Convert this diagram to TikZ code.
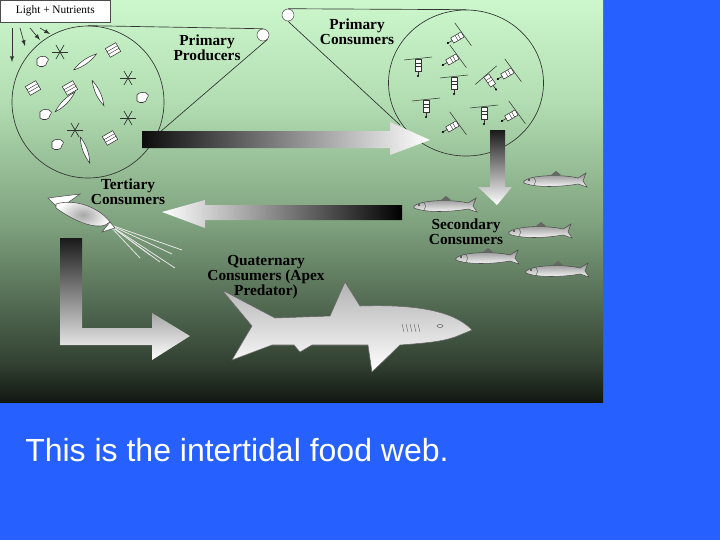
\documentclass[tikz,border=0pt]{standalone}
\usepackage{fontspec}
\usetikzlibrary{shapes.geometric}
\setmainfont{Liberation Serif}
\setsansfont{Liberation Sans}
\definecolor{bgblue}{RGB}{38,96,255}
\pgfdeclareverticalshading{sea}{100bp}{rgb(0bp)=(0.07,0.09,0.07); rgb(25bp)=(0.07,0.09,0.07); rgb(30bp)=(0.2,0.26,0.2); rgb(47.5bp)=(0.5,0.64,0.5); rgb(62.5bp)=(0.7,0.87,0.7); rgb(75bp)=(0.8,0.97,0.8); rgb(100bp)=(0.8,0.97,0.8)}
\begin{document}
\begin{tikzpicture}[x=0.75pt,y=-0.75pt,
 lbl/.style={font=\bfseries\fontsize{11.5}{11.5}\selectfont,align=center,text=black,inner sep=0},
 thin line/.style={draw=black!80,line width=0.5pt},
 fish/.pic={\shade[draw=black!70,line width=0.4pt,top color=black!45,bottom color=white]
   (-32,0) .. controls (-25,-6) and (5,-7) .. (22,-3) -- (30,-8) -- (27,0) -- (31,6) -- (22,3)
   .. controls (5,6) and (-20,7) .. (-32,2) -- cycle;
   \fill[black!60] (-5,-6) -- (0,-10) -- (5,-6) -- cycle;
   \draw[black!70,line width=0.3pt] (-22,-3) .. controls (-20,0) .. (-22,4);
   \fill (-27,-1) circle (0.8);},
 cope/.pic={\draw[black!80,line width=0.4pt] (-14,-2) -- (14,-5);
   \draw[black!80,fill=white,line width=0.4pt] (-3,-3) rectangle (3,9);
   \draw[black!80,line width=0.3pt] (-3,1)--(3,1) (-3,4)--(3,4);
   \draw[black!80,line width=0.5pt] (0,9) -- (0,14); \fill (0,14) circle (1.2);},
 sstar/.pic={\foreach \a in {0,60,120}{\draw[black!80,line width=0.5pt] (\a:8) -- (\a+180:8);}},
 diat/.pic={\draw[black!80,fill=white,line width=0.4pt,rotate=30] (-6,-5) rectangle (6,5);
   \draw[black!80,line width=0.3pt,rotate=30] (-6,-1.5)--(6,-1.5) (-6,1.5)--(6,1.5);},
 spin/.pic={\draw[black!80,fill=white,line width=0.4pt] (-14,0) .. controls (-4,-3) and (4,-3) .. (14,0) .. controls (4,3) and (-4,3) .. (-14,0);}
]
\useasboundingbox (0,0) rectangle (720,540);
\fill[bgblue] (0,0) rectangle (720,540);
\shade[shading=sea] (0,0) rectangle (603,402);
% light box
\node[draw=black!70,fill=white,minimum width=110*0.75pt,minimum height=22*0.75pt,anchor=north west,inner sep=0,font=\fontsize{8.5}{9}\selectfont] (light) at (0,0) {Light + Nutrients};
\foreach \x/\y/\u/\v in {12/28/12/62, 20/28/25/46, 30/28/40/40, 40/28/50/34}{\draw[-latex,black!80,line width=0.5pt] (\x,\y) -- (\u,\v);}
% producers circle
\node[circle,thin line,minimum size=152*0.75pt] (pc) at (88,102) {};
\node[circle,draw=black!70,fill=white,minimum size=12*0.75pt,inner sep=0] (pdot) at (263,35) {};
\draw[thin line] (pc.north) -- (pdot.north);
\draw[thin line] (pdot.south east) -- (160,132);
\node[lbl] (plab) at (207,48) {Primary\\Producers};
\foreach \p in {(60,52),(128,78),(128,118),(75,130)}{\pic at \p {sstar};}
\foreach \p in {(113,50),(33,88),(70,88),(110,138)}{\pic at \p {diat};}
\pic[rotate=35] at (85,62) {spin};
\pic[rotate=-65] at (98,93) {spin};
\pic[rotate=45] at (65,102) {spin};
\pic[rotate=-70] at (85,150) {spin};
\foreach \p in {(42,62),(142,98),(45,115),(57,145)}{\draw[black!80,fill=white,line width=0.4pt] \p ++(-5,-3) .. controls ++(5,-6) and ++(5,-4) .. ++(10,3) .. controls ++(0,5) and ++(3,3) .. ++(-10,3) -- cycle;}
% consumers circle
\node[ellipse,thin line,minimum width=155*0.75pt,minimum height=146*0.75pt] (cc) at (466,83) {};
\node[circle,draw=black!70,fill=white,minimum size=12*0.75pt,inner sep=0] (cdot) at (288,15) {};
\draw[thin line] (cdot.north) -- (cc.north);
\draw[thin line] (cdot.south) -- (400,125);
\node[lbl] (clab) at (357,32) {Primary\\Consumers};
\pic[rotate=-60] at (460,36) {cope};
\pic at (418,62) {cope};
\pic[rotate=-60] at (455,58) {cope};
\pic at (454,80) {cope};
\pic[rotate=35] at (488,78) {cope};
\pic[rotate=-60] at (510,72) {cope};
\pic at (426,103) {cope};
\pic at (484,110) {cope};
\pic[rotate=-60] at (514,114) {cope};
\pic[rotate=-60] at (455,125) {cope};
% arrows
\shade[left color=black!95,right color=white] (142,131) -- (390,131) -- (390,122) -- (430,140) -- (390,155) -- (390,148) -- (142,148) -- cycle;
\shade[top color=black!90,bottom color=white] (490,130) -- (505,130) -- (505,187) -- (512,187) -- (497,205) -- (478,187) -- (490,187) -- cycle;
\shade[left color=white,right color=black] (402,205) -- (205,205) -- (205,200) -- (162,212) -- (205,228) -- (205,220) -- (402,220) -- cycle;
\shade[top color=black!90,bottom color=white] (60,238) -- (82,238) -- (82,328) -- (152,328) -- (152,313) -- (190,336) -- (152,360) -- (152,345) -- (60,345) -- cycle;
% labels
\node[lbl] (tlab) at (128,192) {Tertiary\\Consumers};
\node[lbl] (slab) at (466,232) {Secondary\\Consumers};
\node[lbl] (qlab) at (266,277) {Quaternary\\Consumers (Apex\\Predator)};
% fish
\pic at (446,206) {fish};
\pic at (556,181) {fish};
\pic at (541,232) {fish};
\pic at (488,258) {fish};
\pic at (558,271) {fish};
% squid
\draw[black!70,fill=white,line width=0.4pt] (48,198) -- (80,194) -- (66,204) -- (72,216) -- (62,212) -- cycle;
\shade[draw=black!70,line width=0.4pt,inner color=black!35,outer color=white] (56,204) .. controls (75,198) and (100,208) .. (110,222) .. controls (100,232) and (75,222) .. (56,208) -- cycle;
\foreach \e in {(172,254),(182,250),(160,262),(150,255),(175,268),(140,258)}{\draw[white!90!black,line width=0.6pt] (108,224) -- \e;}
\draw[black!70,fill=white,line width=0.4pt] (110,222) -- (102,232) -- (115,228) -- cycle;
% shark
\shade[draw=black!60,line width=0.4pt,top color=black!30,bottom color=white,middle color=white!85!black]
 (222,290) -- (275,318) -- (330,316) -- (345,282) -- (360,306) .. controls (420,304) and (455,312) .. (472,330) -- (455,337) .. controls (440,342) and (425,343) .. (400,345) -- (372,372) -- (368,345) -- (312,345) -- (300,352) -- (294,345) -- (272,345) -- (232,360) -- (252,326) -- cycle;
\draw[black!60,line width=0.4pt] (440,326) ellipse (3 and 1.5);
\foreach \x in {404,408,412,416,420}{\draw[black!60,line width=0.3pt] (\x,332) -- (\x-2,324);}
% caption
\node[anchor=west,text=white,inner sep=0,font=\sffamily\fontsize{24}{26}\selectfont] (cap) at (25,450) {This is the intertidal food web.};
\end{tikzpicture}
\end{document}
